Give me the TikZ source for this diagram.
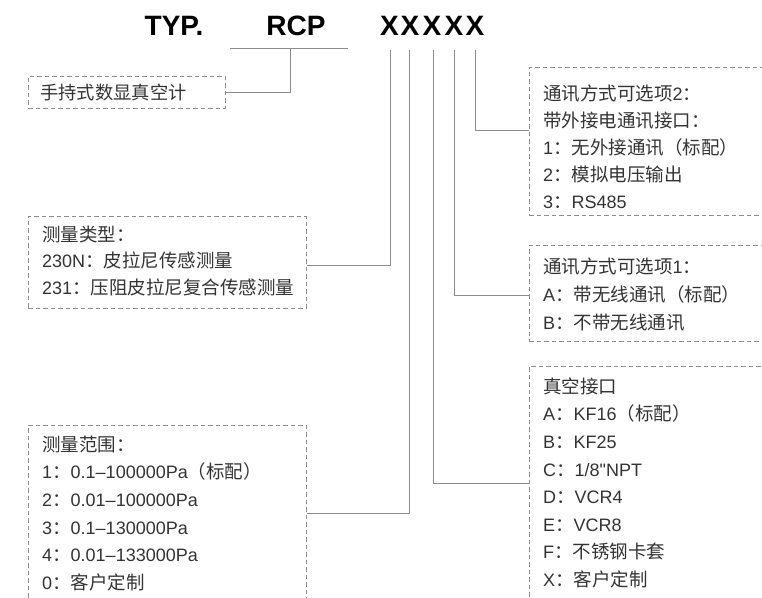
\documentclass[tikz,border=0pt]{standalone}
\usepackage{fontspec}
\setmainfont{Liberation Sans}
\newfontfamily\cjk{Noto Sans CJK SC}
\newfontfamily\titlefont{Liberation Sans}
\newfontfamily\latinfont{Liberation Sans}[Scale=0.973]
\newcommand\lat[1]{{\latinfont #1}}
\definecolor{linegray}{HTML}{8C8C8C}
\definecolor{textgray}{HTML}{333333}
\begin{document}
\begin{tikzpicture}[x=1pt,y=-1pt,
  title/.style={font=\titlefont\bfseries\fontsize{28}{30}\selectfont, text=black, inner sep=0pt, anchor=base},
  optbox/.style={draw=linegray, dash pattern=on 4.5pt off 3pt, line width=0.9pt, inner sep=0pt, anchor=north west},
  opttext/.style={anchor=north west, align=left, inner sep=0pt, text=textgray},
  conn/.style={draw=linegray, line width=1pt}]
\useasboundingbox (0,0) rectangle (762,597);
\begin{scope}
\clip (0,0) rectangle (762,597);

% model code
\node[title] (typ) at (174,35) {TYP.};
\node[title] (rcp) at (296,35) {RCP};
\node[title] (x1) at (389.5,35) {X};
\node[title] (x2) at (410,35) {X};
\node[title] (x3) at (432,35) {X};
\node[title] (x4) at (454,35) {X};
\node[title] (x5) at (475,35) {X};

% tops of the connector lines
\coordinate (rcpL) at (230,48);
\coordinate (rcpR) at (348,48);
\coordinate (rcpM) at (290,48);
\coordinate (t1) at (390,50);
\coordinate (t2) at (409,50);
\coordinate (t3) at (433,50);
\coordinate (t4) at (454,50);
\coordinate (t5) at (475,50);

% option boxes
\node[optbox, minimum width=197pt, minimum height=32pt] (boxA) at (28,76) {};
\node[optbox, minimum width=278pt, minimum height=92pt] (boxB) at (28,216) {};
\node[optbox, minimum width=278pt, minimum height=176pt] (boxC) at (28,425) {};
\node[optbox, minimum width=280pt, minimum height=148pt] (boxD) at (529,67) {};
\node[optbox, minimum width=280pt, minimum height=96pt] (boxE) at (529,245) {};
\node[optbox, minimum width=280pt, minimum height=234pt] (boxF) at (529,366) {};

% box texts
\node[opttext, font=\cjk\fontsize{18.3}{20}\selectfont] (tA) at (40,83.5) {手持式数显真空计};
\node[opttext, font=\cjk\fontsize{18.5}{26.5}\selectfont] (tB) at (42,225.5)
  {测量类型：\\\lat{230N}：皮拉尼传感测量\\\lat{231}：压阻皮拉尼复合传感测量};
\node[opttext, font=\cjk\fontsize{18.5}{27.6}\selectfont] (tC) at (42,435.5)
  {测量范围：\\\lat{1}：\lat{0.1–100000Pa}（标配）\\\lat{2}：\lat{0.01–100000Pa}\\\lat{3}：\lat{0.1–130000Pa}\\\lat{4}：\lat{0.01–133000Pa}\\\lat{0}：客户定制};
\node[opttext, font=\cjk\fontsize{18.5}{27}\selectfont] (tD) at (543,84.5)
  {通讯方式可选项\lat{2}：\\带外接电通讯接口：\\\lat{1}：无外接通讯（标配）\\\lat{2}：模拟电压输出\\\lat{3}：\lat{RS485}};
\node[opttext, font=\cjk\fontsize{18.5}{28}\selectfont] (tE) at (543,257.5)
  {通讯方式可选项\lat{1}：\\\lat{A}：带无线通讯（标配）\\\lat{B}：不带无线通讯};
\node[opttext, font=\cjk\fontsize{18.5}{27.6}\selectfont] (tF) at (543,377.5)
  {真空接口\\\lat{A}：\lat{KF16}（标配）\\\lat{B}：\lat{KF25}\\\lat{C}：\lat{1/8"NPT}\\\lat{D}：\lat{VCR4}\\\lat{E}：\lat{VCR8}\\\lat{F}：不锈钢卡套\\\lat{X}：客户定制};

% connectors
\draw[conn] (rcpL) -- (rcpR);
\draw[conn] (rcpM) |- (boxA.east);
\draw[conn] (t1) |- ([yshift=-3pt]boxB.east);
\draw[conn] (t2) |- (boxC.east);
\draw[conn] (t3) |- (boxF.west);
\draw[conn] (t4) |- ([yshift=-2pt]boxE.west);
\draw[conn] (t5) |- ([yshift=11pt]boxD.west);
\end{scope}
\end{tikzpicture}
\end{document}
